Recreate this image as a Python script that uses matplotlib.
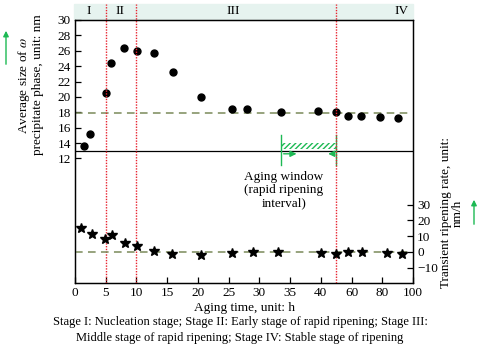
import numpy as np
import matplotlib
matplotlib.use('Agg')
import matplotlib.pyplot as plt
from matplotlib.patches import Rectangle, FancyArrowPatch

plt.rcParams['font.family'] = ['Liberation Serif', 'DejaVu Serif']
plt.rcParams['mathtext.fontset'] = 'stix'

# axis ticks (piecewise time axis: evenly spaced tick labels)
tick_hours = [0, 5, 10, 15, 20, 25, 30, 35, 40, 60, 80, 100]

# average size of omega phase (nm)
size_t = [1.5, 2.4, 5.0, 5.9, 7.9, 10.1, 12.9, 16.0, 20.5, 25.5, 28.0, 33.5, 39.5, 50.0, 58.0, 66.0, 78.5, 90.5]
size_v = [13.6, 15.2, 20.5, 24.4, 26.4, 26.0, 25.7, 23.2, 20.0, 18.4, 18.4, 18.1, 18.2, 18.0, 17.5, 17.5, 17.4, 17.3]

# transient ripening rate (nm/h)
rate_t = [0.9, 2.7, 4.9, 6.1, 8.1, 10.1, 12.9, 15.8, 20.5, 25.6, 29.0, 33.1, 40.0, 50.0, 58.0, 66.8, 83.0, 93.0]
rate_v = [15.4, 11.2, 8.3, 10.6, 5.5, 3.6, 0.6, -1.1, -2.1, -0.6, -0.2, 0.2, -0.6, -1.5, 0.2, -0.2, -0.4, -1.5]

stage_bounds = [5, 10, 50]
stage_names = ['I', 'II', 'III', 'IV']
stage_pos = [2.2, 7.3, 25.7, 92.5]
window = [33.5, 50]

idx = np.arange(len(tick_hours))
fwd = lambda x: np.interp(x, tick_hours, idx)
inv = lambda x: np.interp(x, idx, tick_hours)

fig = plt.figure(figsize=(4.8, 3.49), dpi=100)
ax = fig.add_axes([75/480, 66/349, 338/480, 263/349])
ax.set_xscale('function', functions=(fwd, inv))
ax.set_xlim(0, 100)
ax.set_ylim(-4.2, 30.0)
ax2 = ax.twinx()
ax2.set_ylim(-19.7, 147.3)

green_line = '#7a8a5a'
red = '#e8232f'
green = '#1db954'

ax.plot(size_t, size_v, 'o', color='black', ms=5, zorder=5)
ax2.plot(rate_t, rate_v, '*', color='black', ms=7.5, zorder=5)
ax.axhline(17.9, xmin=0, xmax=0.99, color=green_line, ls=(0, (5, 3.5)), lw=1.1)
ax2.axhline(0, xmin=0, xmax=0.99, color=green_line, ls=(0, (5, 3.5)), lw=1.1)
ax.axhline(13.0, color='black', lw=0.9)

for b in stage_bounds:
    ax.axvline(b, ymin=0, ymax=1.061, color=red, ls=(0, (1, 1)), lw=1.0, clip_on=False, zorder=6)

ax.add_patch(Rectangle((-0.003, 1.004), 1.003, 0.057, transform=ax.transAxes,
                       color='#e6f3ef', clip_on=False, zorder=0))
for name, x in zip(stage_names, stage_pos):
    ax.text(x, 1.033, name, transform=ax.get_xaxis_transform(), ha='center', va='center', fontsize=9.5)

# aging window
for w in window:
    ax.plot([w, w], [11.1, 15.0], color=green, lw=1.0)
ax.fill_between(window, 13.2, 14.0, facecolor='none', edgecolor=green, hatch='//////', lw=0)
ax.annotate('', xy=(36.5, 12.6), xytext=(33.5, 12.6),
            arrowprops=dict(arrowstyle='-|>', color=green, lw=1.0, mutation_scale=9))
ax.annotate('', xy=(43.0, 12.6), xytext=(50, 12.6),
            arrowprops=dict(arrowstyle='-|>', color=green, lw=1.0, mutation_scale=9))
ax.text(34.0, 7.9, 'Aging window\n(rapid ripening\ninterval)', ha='center', va='center', fontsize=9.5,
        linespacing=1.1)

ax.set_xticks(tick_hours)
ax.set_xticklabels([str(t) for t in tick_hours])
ax.set_yticks(range(12, 31, 2))
ax2.set_yticks([-10, 0, 10, 20, 30])
ax.tick_params(direction='in', length=4.5, width=0.9, labelsize=9.5, pad=3)
ax2.tick_params(direction='in', length=4.5, width=0.9, labelsize=9.5, pad=3)
for a in (ax, ax2):
    for s in a.spines.values():
        s.set_linewidth(0.9)

ax.set_xlabel('Aging time, unit: h', fontsize=9.5, labelpad=2)
fig.text(30/480, 1 - 85/349, 'Average size of $\\mathit{\\omega}$\nprecipitate phase, unit: nm',
         rotation=90, ha='center', va='center', fontsize=9.5, linespacing=1.05)
fig.text(452/480, 1 - 213/349, 'Transient ripening rate, unit:\nnm/h',
         rotation=90, ha='center', va='center', fontsize=9.5, linespacing=1.05)

fig.patches.append(FancyArrowPatch((6/480, 1 - 67/349), (6/480, 1 - 28/349),
                   transform=fig.transFigure, arrowstyle='-|>', color=green, lw=1.0, mutation_scale=8))
fig.patches.append(FancyArrowPatch((474/480, 1 - 227/349), (474/480, 1 - 197/349),
                   transform=fig.transFigure, arrowstyle='-|>', color=green, lw=1.0, mutation_scale=8))

fig.text(0.5, 1 - 322/349, 'Stage I: Nucleation stage; Stage II: Early stage of rapid ripening; Stage III:',
         ha='center', va='center', fontsize=9)
fig.text(0.5, 1 - 338/349, 'Middle stage of rapid ripening; Stage IV: Stable stage of ripening',
         ha='center', va='center', fontsize=9)

fig.savefig('out.png', dpi=100)
